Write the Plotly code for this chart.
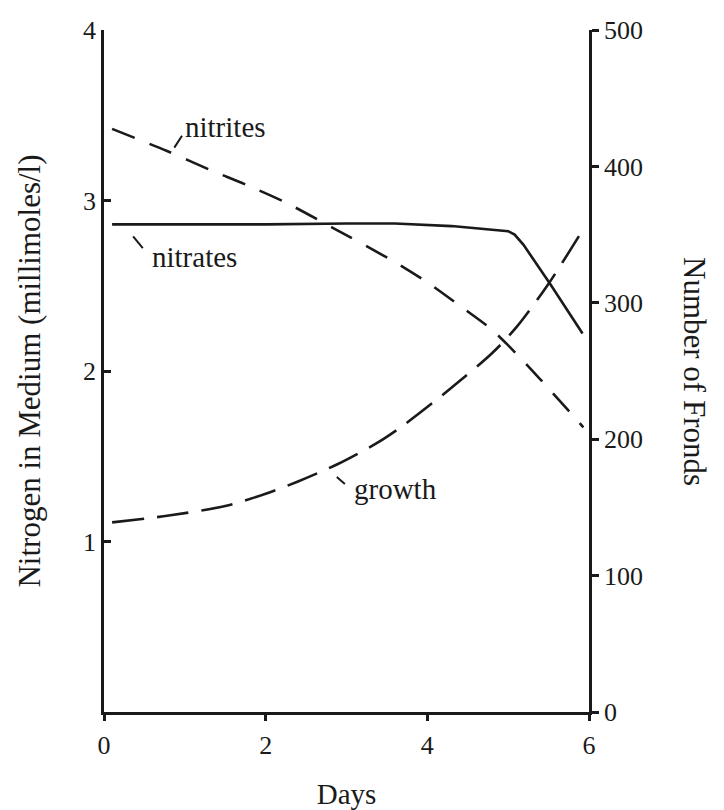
import plotly.graph_objects as go

# Nitrogen in the medium (millimoles/l), left axis
nitrite_days = [0.1, 0.78, 1.31, 1.77, 2.24, 2.83, 3.63, 4.03, 4.41, 4.78, 5.0, 5.40, 5.93]
nitrite_vals = [3.42, 3.29, 3.18, 3.09, 2.99, 2.84, 2.63, 2.51, 2.38, 2.25, 2.15, 1.95, 1.67]

nitrate_days = [0.1, 1.0, 2.0, 3.0, 3.6, 4.3, 4.8, 5.0, 5.08, 5.19, 5.52, 5.92]
nitrate_vals = [2.86, 2.86, 2.86, 2.865, 2.865, 2.85, 2.83, 2.82, 2.80, 2.74, 2.51, 2.22]

# Number of fronds, right axis
growth_days = [0.1, 0.8, 1.5, 2.0, 2.4, 2.9, 3.4, 3.7, 4.2, 4.8, 5.1, 5.5, 5.95]
growth_vals = [139, 144, 151, 160, 169, 182, 198, 210, 233, 263, 282, 314, 356]

x_ticks = [0, 2, 4, 6]
left_ticks = [1, 2, 3, 4]
right_ticks = [0, 100, 200, 300, 400, 500]

FONT = "Liberation Serif, Times New Roman, serif"
INK = "#1a1a1a"

fig = go.Figure()
fig.add_trace(go.Scatter(x=nitrite_days, y=nitrite_vals, mode="lines",
                         line=dict(color=INK, width=2.6, dash="24px,16px", shape="spline", smoothing=0.8),
                         yaxis="y", showlegend=False))
fig.add_trace(go.Scatter(x=nitrate_days, y=nitrate_vals, mode="lines",
                         line=dict(color=INK, width=2.6),
                         yaxis="y", showlegend=False))
fig.add_trace(go.Scatter(x=growth_days, y=growth_vals, mode="lines",
                         line=dict(color=INK, width=2.6, dash="32px,13px", shape="spline", smoothing=0.8),
                         yaxis="y2", showlegend=False))

# Curve labels with short leader strokes
labels = [
    ("nitrites", 0.98, 3.43, (0.87, 3.31, 0.965, 3.38)),
    ("nitrates", 0.57, 2.67, (0.36, 2.79, 0.48, 2.72)),
    ("growth", 3.07, 1.31, (2.88, 1.378, 2.98, 1.337)),
]
for text, lx, ly, (x0, y0, x1, y1) in labels:
    fig.add_annotation(x=lx, y=ly, xref="x", yref="y", text=text, showarrow=False,
                       xanchor="left", yanchor="middle",
                       font=dict(family=FONT, size=29, color=INK))
    fig.add_shape(type="line", xref="x", yref="y", x0=x0, y0=y0, x1=x1, y1=y1,
                  line=dict(color=INK, width=2))

# Right-hand title reads top to bottom
fig.add_annotation(x=1.0, y=0.5, xref="paper", yref="paper", xshift=106,
                   text="Number of Fronds", textangle=90, showarrow=False,
                   xanchor="center", yanchor="middle",
                   font=dict(family=FONT, size=31, color=INK))

fig.update_layout(
    width=724, height=810,
    margin=dict(l=104, r=135, t=30, b=98, autoexpand=False),
    paper_bgcolor="white", plot_bgcolor="white",
    font=dict(family=FONT, size=26, color=INK),
    xaxis=dict(range=[0, 6], tickvals=x_ticks, showgrid=False, zeroline=False,
               automargin=False,
               showline=True, linecolor=INK, linewidth=2.5,
               ticks="outside", ticklen=6, tickwidth=2.5, tickcolor=INK,
               tickfont=dict(size=26), ticklabelstandoff=2,
               title=dict(text="Days", font=dict(size=29), standoff=34)),
    yaxis=dict(range=[0, 4], tickvals=left_ticks, showgrid=False, zeroline=False,
               automargin=False,
               showline=True, linecolor=INK, linewidth=2.5,
               ticks="inside", ticklen=7, tickwidth=2.5, tickcolor=INK,
               tickfont=dict(size=26),
               title=dict(text="Nitrogen in Medium (millimoles/l)", font=dict(size=31), standoff=34)),
    yaxis2=dict(range=[0, 500], tickvals=right_ticks, overlaying="y", side="right",
                anchor="x", showgrid=False, zeroline=False, automargin=False,
                showline=True, linecolor=INK, linewidth=2.5,
                ticks="outside", ticklen=7, tickwidth=2.5, tickcolor=INK,
                tickfont=dict(size=26)),
    yaxis3=dict(range=[0, 500], tickvals=right_ticks, overlaying="y", side="right",
                anchor="x", showgrid=False, zeroline=False, showline=False,
                automargin=False,
                ticks="inside", ticklen=6, tickwidth=2.5, tickcolor=INK,
                showticklabels=False),
)

fig.write_html("out.html")
